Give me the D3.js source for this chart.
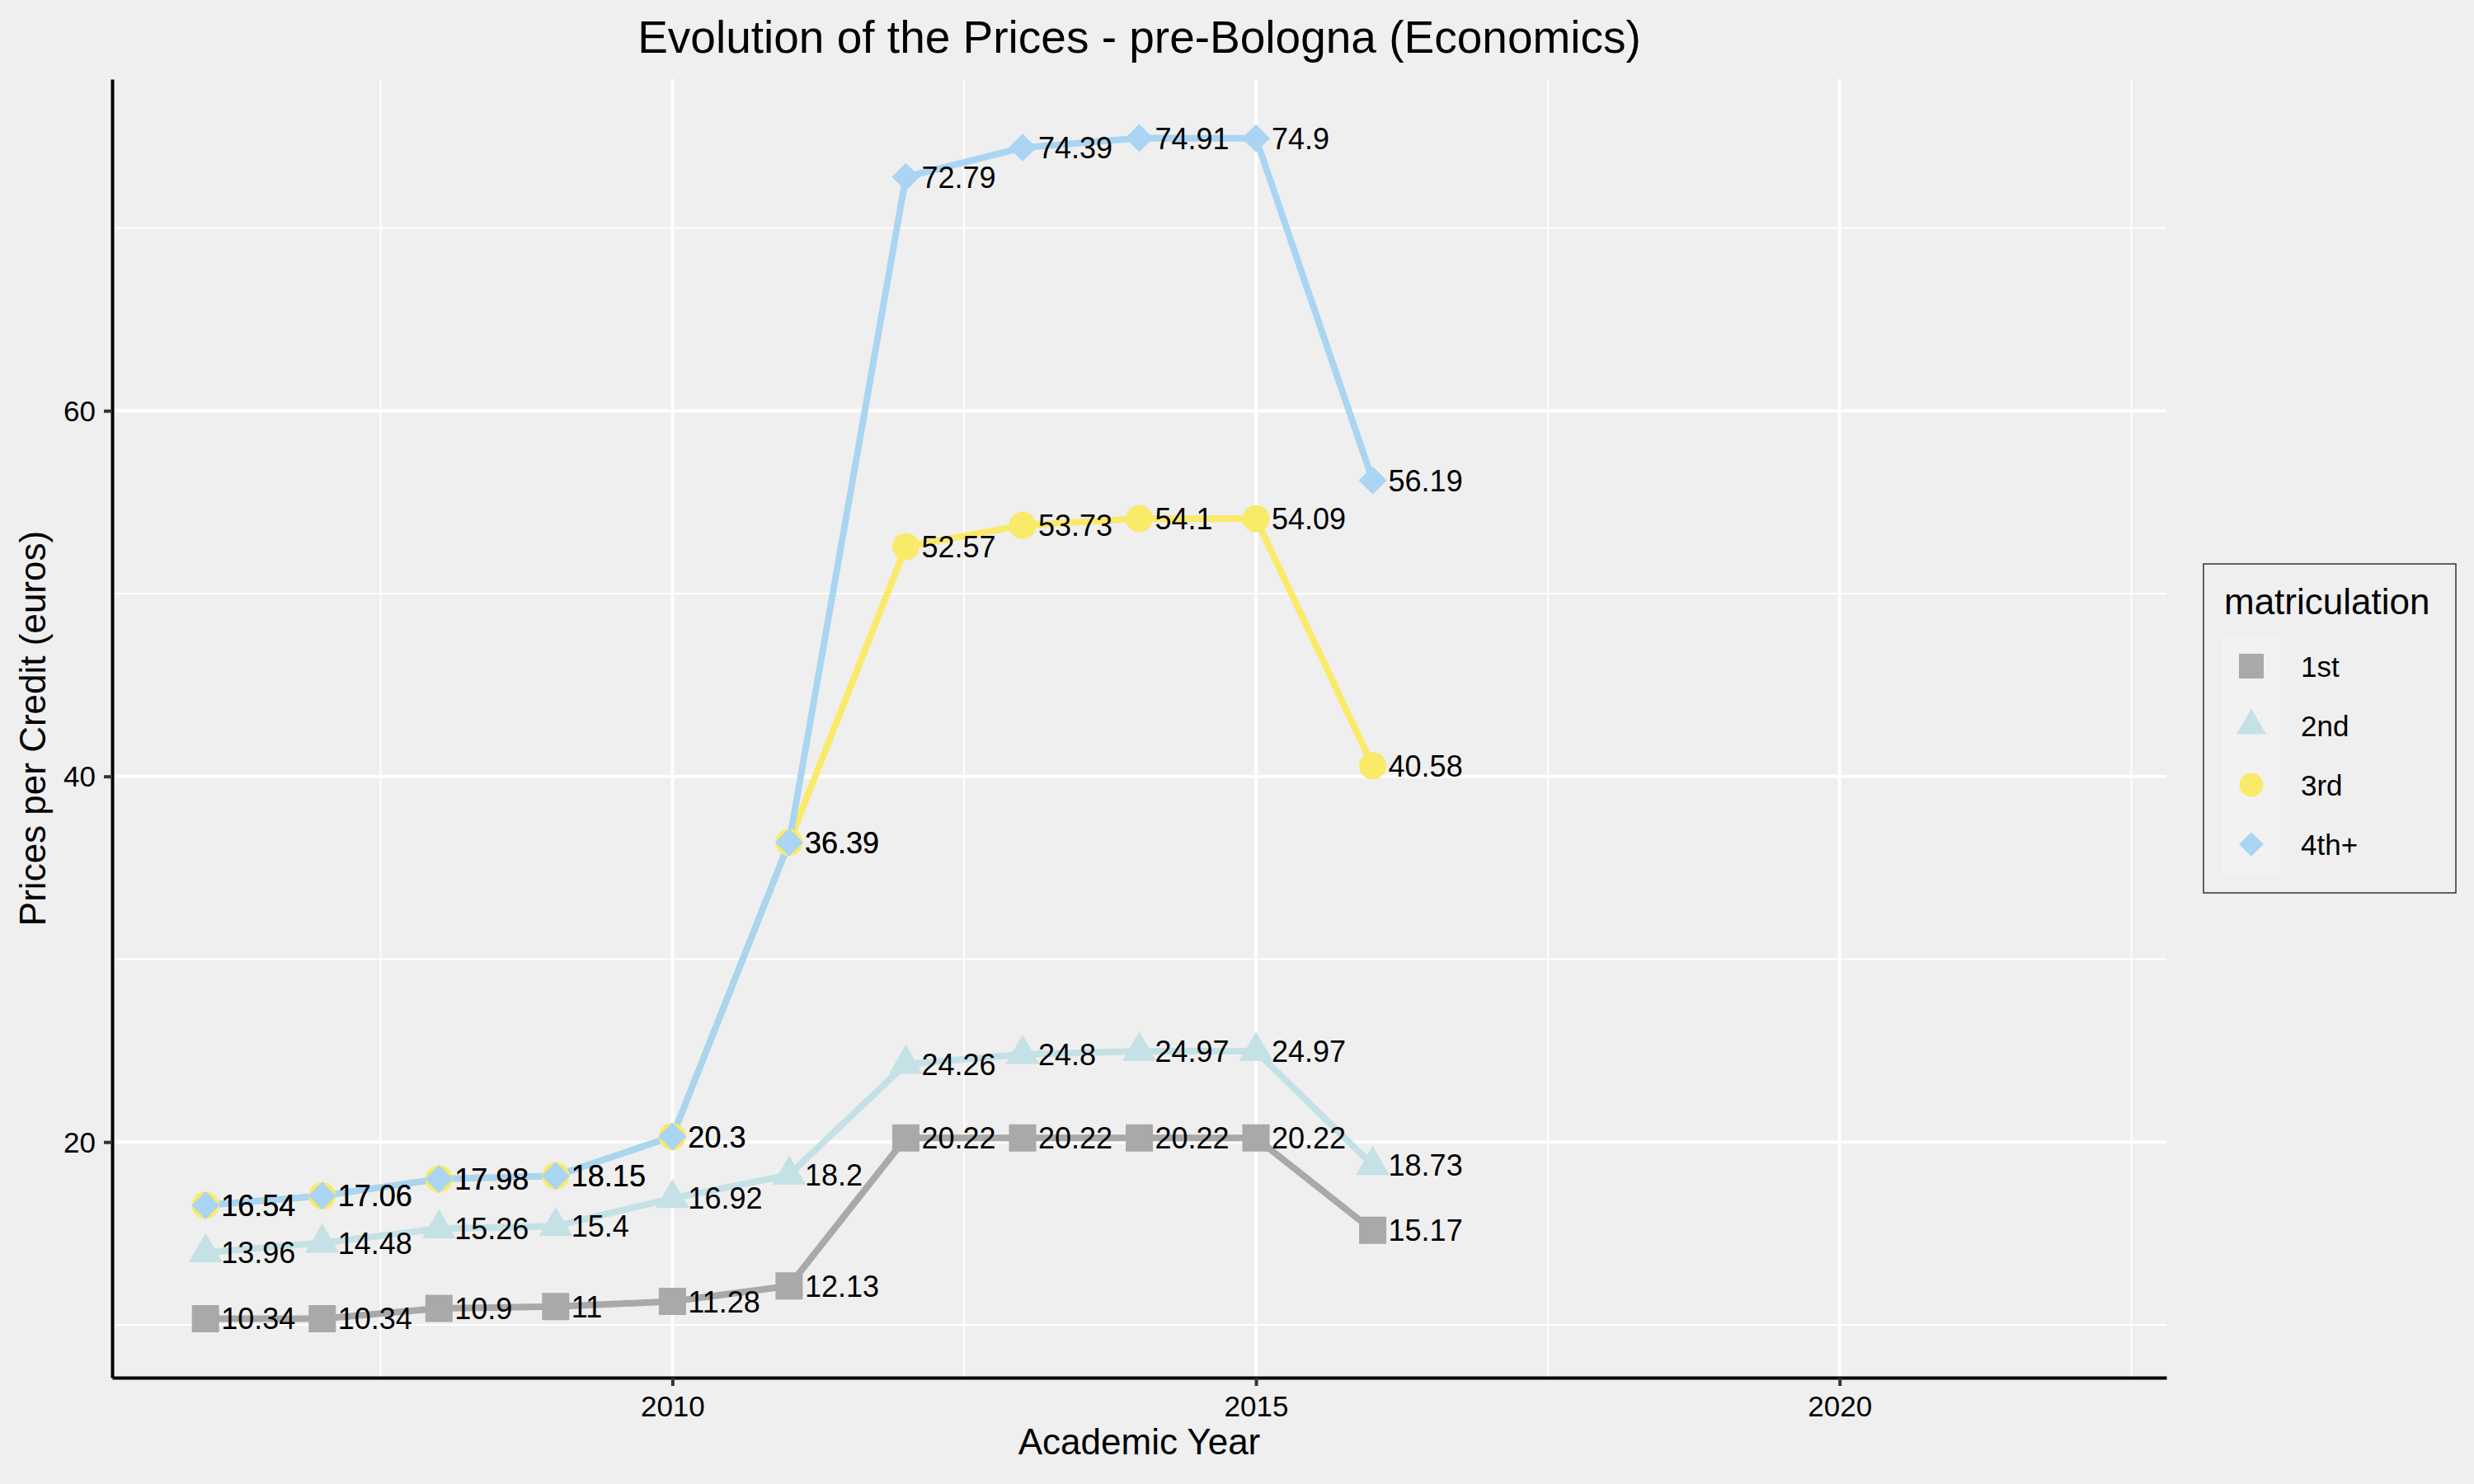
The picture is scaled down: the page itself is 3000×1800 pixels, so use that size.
<!DOCTYPE html>
<html>
<head>
<meta charset="utf-8">
<script src="https://cdn.jsdelivr.net/npm/d3@7"></script>
<style>
  html, body { margin: 0; padding: 0; background: #EFEFEF; }
  svg { display: block; font-family: "Liberation Sans", Arial, Helvetica, sans-serif; }
</style>
</head>
<body>
<svg id="chart" width="3000" height="1800"></svg>
<script>
// ---- data ----
const years = [2006, 2007, 2008, 2009, 2010, 2011, 2012, 2013, 2014, 2015, 2016];
const yearRange = [2006, 2022];
const seriesNames = ["1st", "2nd", "3rd", "4th+"];
const first  = [10.34, 10.34, 10.9, 11, 11.28, 12.13, 20.22, 20.22, 20.22, 20.22, 15.17];
const second = [13.96, 14.48, 15.26, 15.4, 16.92, 18.2, 24.26, 24.8, 24.97, 24.97, 18.73];
const third  = [16.54, 17.06, 17.98, 18.15, 20.3, 36.39, 52.57, 53.73, 54.1, 54.09, 40.58];
const fourth = [16.54, 17.06, 17.98, 18.15, 20.3, 36.39, 72.79, 74.39, 74.91, 74.9, 56.19];
const xTicks = [2010, 2015, 2020];
const xMinor = [2007.5, 2012.5, 2017.5, 2022.5];
const yTicks = [20, 40, 60];
const yMinor = [10, 30, 50, 70];
const titleText = "Evolution of the Prices - pre-Bologna (Economics)";
const xTitle = "Academic Year";
const yTitle = "Prices per Credit (euros)";
const legendTitle = "matriculation";

// ---- styling ----
const colors = ["#A9A9A9", "#C4E1E6", "#FAEA6A", "#AAD5F2"];
const shapes = [d3.symbolSquare, d3.symbolTriangle, d3.symbolCircle, d3.symbolSquare];
const rotations = [0, 0, 0, 45];
const ptSize = [33 * 33, 720, Math.PI * 16.5 * 16.5, 24 * 24];
const legSize = [30 * 30, 560, Math.PI * 14.5 * 14.5, 21 * 21];

const allSeries = [first, second, third, fourth].map((vals, i) => ({
  name: seriesNames[i], i,
  pts: years.map((y, j) => ({ x: y, v: vals[j] }))
}));

const svg = d3.select("#chart");
const W = 3000, H = 1800;
const panel = { left: 136, right: 2627, top: 96, bottom: 1671 };

svg.append("rect").attr("width", W).attr("height", H).attr("fill", "#EFEFEF");

// scales with ggplot-like 5% expansion
const allVals = [].concat(first, second, third, fourth);
const vMin = d3.min(allVals), vMax = d3.max(allVals);
const vPad = (vMax - vMin) * 0.05;
const xPad = (yearRange[1] - yearRange[0]) * 0.05;
const x = d3.scaleLinear().domain([yearRange[0] - xPad, yearRange[1] + xPad]).range([panel.left, panel.right]);
const y = d3.scaleLinear().domain([vMin - vPad, vMax + vPad]).range([panel.bottom, panel.top]);

// grid
const grid = svg.append("g");
grid.selectAll(".ymin").data(yMinor).join("line")
  .attr("x1", panel.left).attr("x2", panel.right)
  .attr("y1", d => y(d)).attr("y2", d => y(d))
  .attr("stroke", "#fff").attr("stroke-width", 2);
grid.selectAll(".xmin").data(xMinor).join("line")
  .attr("y1", panel.top).attr("y2", panel.bottom)
  .attr("x1", d => x(d)).attr("x2", d => x(d))
  .attr("stroke", "#fff").attr("stroke-width", 2);
grid.selectAll(".ymaj").data(yTicks).join("line")
  .attr("x1", panel.left).attr("x2", panel.right)
  .attr("y1", d => y(d)).attr("y2", d => y(d))
  .attr("stroke", "#fff").attr("stroke-width", 4);
grid.selectAll(".xmaj").data(xTicks).join("line")
  .attr("y1", panel.top).attr("y2", panel.bottom)
  .attr("x1", d => x(d)).attr("x2", d => x(d))
  .attr("stroke", "#fff").attr("stroke-width", 4);

// axes
const xAxis = d3.axisBottom(x).tickValues(xTicks).tickFormat(d3.format("d")).tickSizeInner(10).tickSizeOuter(0).tickPadding(12);
const yAxis = d3.axisLeft(y).tickValues(yTicks).tickFormat(d3.format("d")).tickSizeInner(10).tickSizeOuter(0).tickPadding(10);
const gx = svg.append("g").attr("transform", `translate(0,${panel.bottom})`).call(xAxis);
const gy = svg.append("g").attr("transform", `translate(${panel.left},0)`).call(yAxis);
[gx, gy].forEach(g => {
  g.select(".domain").attr("stroke", "#000").attr("stroke-width", 4);
  g.selectAll(".tick line").attr("stroke", "#333").attr("stroke-width", 4);
  g.selectAll(".tick text").attr("fill", "#000").attr("font-size", 35)
    .attr("font-family", "'Liberation Sans', Arial, sans-serif");
});
gy.selectAll(".tick text").attr("dy", "0.35em");

// lines
const line = d3.line().x(d => x(d.x)).y(d => y(d.v));
svg.append("g").selectAll("path").data(allSeries).join("path")
  .attr("d", d => line(d.pts))
  .attr("fill", "none")
  .attr("stroke", d => colors[d.i])
  .attr("stroke-width", 8)
  .attr("stroke-linejoin", "round");

// points
allSeries.forEach(s => {
  svg.append("g").selectAll("path").data(s.pts).join("path")
    .attr("transform", d => `translate(${x(d.x)},${y(d.v)}) rotate(${rotations[s.i]})`)
    .attr("d", d3.symbol().type(shapes[s.i]).size(ptSize[s.i]))
    .attr("fill", colors[s.i]);
});

// labels
allSeries.forEach(s => {
  svg.append("g").selectAll("text").data(s.pts).join("text")
    .attr("x", d => x(d.x) + 19)
    .attr("y", d => y(d.v))
    .attr("dy", "0.36em")
    .attr("font-size", 36)
    .attr("fill", "#000")
    .text(d => String(d.v));
});

// titles
svg.append("text").attr("x", (panel.left + panel.right) / 2).attr("y", 64)
  .attr("text-anchor", "middle").attr("font-size", 55).attr("fill", "#000").text(titleText);
svg.append("text").attr("x", (panel.left + panel.right) / 2).attr("y", 1764)
  .attr("text-anchor", "middle").attr("font-size", 44).attr("fill", "#000").text(xTitle);
svg.append("text").attr("transform", `translate(55,${(panel.top + panel.bottom) / 2}) rotate(-90)`)
  .attr("text-anchor", "middle").attr("font-size", 44).attr("fill", "#000").text(yTitle);

// legend
const leg = svg.append("g");
leg.append("rect").attr("x", 2672).attr("y", 684).attr("width", 306).attr("height", 399)
  .attr("fill", "#EFEFEF").attr("stroke", "#333").attr("stroke-width", 1.5);
leg.append("text").attr("x", 2697).attr("y", 745).attr("font-size", 44).attr("fill", "#000").text(legendTitle);
leg.append("rect").attr("x", 2694).attr("y", 772).attr("width", 72).attr("height", 288).attr("fill", "#F2F2F2");
const items = leg.selectAll(".item").data(seriesNames).join("g")
  .attr("transform", (d, i) => `translate(2730,${808 + i * 72})`);
items.append("path")
  .attr("transform", (d, i) => `rotate(${rotations[i]})`)
  .attr("d", (d, i) => d3.symbol().type(shapes[i]).size(legSize[i])())
  .attr("fill", (d, i) => colors[i]);
items.append("text").attr("x", 60).attr("dy", "0.36em").attr("font-size", 35).attr("fill", "#000").text(d => d);
</script>
</body>
</html>
